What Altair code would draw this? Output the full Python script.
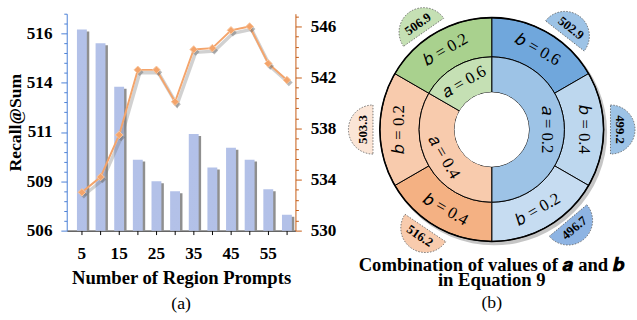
import math
import altair as alt
import pandas as pd

FONT = "Liberation Serif"

# ---------------- Panel (a) data ----------------
prompts = [5, 10, 15, 20, 25, 30, 35, 40, 45, 50, 55, 60]
recall_bars = [516.2, 515.5, 513.3, 509.6, 508.5, 508.0, 510.9, 509.2, 510.2, 509.6, 508.1, 506.8]
recall_line = [533.0, 534.2, 537.5, 542.6, 542.6, 540.1, 544.2, 544.3, 545.7, 546.0, 543.1, 541.8]
x_labels_shown = ["5", "15", "25", "35", "45", "55"]
left_major = [506, 508.5, 511, 513.5, 516]
left_major_labels = ["506", "509", "511", "514", "516"]
left_minor = [506 + 0.5 * i for i in range(23)]
right_major = [530, 534, 538, 542, 546]
right_major_labels = ["530", "534", "538", "542", "546"]
right_minor = [round(530 + 0.8 * i, 1) for i in range(22)]

# ---------------- Panel (b) data ----------------
a_values = ["0.2", "0.4", "0.6"]
a_counts = [3, 2, 1]
inner_colors = ["#9dc3e6", "#f8cbad", "#c5e0b4"]
outer_a = ["0.2", "0.2", "0.2", "0.4", "0.4", "0.6"]
outer_b = ["0.6", "0.4", "0.2", "0.4", "0.2", "0.2"]
outer_colors = ["#70a7dc", "#bdd7ee", "#c6dcf1", "#f4b183", "#f8cbad", "#a9d18e"]
recall_sums = [502.9, 499.2, 496.7, 516.2, 503.3, 506.9]
tab_angles = [38, 90, 140, 214, 270, 325]
tab_colors = ["#9dc3e6", "#9dc3e6", "#8eb4e3", "#f8cbad", "#fbe5d6", "#c5e0b4"]


def label_expr(vals, labels):
    return "".join(f"datum.value == {v} ? '{l}' : " for v, l in zip(vals, labels)) + "''"


def tick_size(majors):
    return {"condition": {"test": f"indexof({list(majors)}, datum.value) >= 0", "value": 6}, "value": 3}


def tangent_rot(theta):
    if theta <= 90:
        r = theta
    elif theta < 270:
        r = theta - 180
    else:
        r = theta - 360
    return r % 360


# ---------------- Panel (a) ----------------
df_a = pd.DataFrame({"n": prompts, "bar": recall_bars, "line": recall_line})
base = alt.Chart(df_a)

xenc = alt.X(
    "n:O",
    scale=alt.Scale(paddingInner=0.47, paddingOuter=0.37, align=0.74),
    axis=alt.Axis(
        title="Number of Region Prompts",
        labelExpr=f"indexof({x_labels_shown}, datum.label) >= 0 ? datum.label : ''",
        labelAngle=0, tickSize=4, tickColor="black", domainColor="black",
        labelFont=FONT, labelFontSize=17.5, labelFontWeight="bold", labelColor="black",
        labelPadding=10, titleFont=FONT, titleFontSize=19, titleFontWeight="bold",
        titleColor="black", titlePadding=7,
    ),
)

left_scale = alt.Scale(domain=[506, 517], nice=False, zero=False)
right_scale = alt.Scale(domain=[530, 547], nice=False, zero=False)

left_axis = alt.Axis(
    orient="left", values=left_minor, labelExpr=label_expr(left_major, left_major_labels),
    tickSize=tick_size(left_major), tickColor="#4a7fd6", domainColor="#4a7fd6",
    labelFont=FONT, labelFontSize=17.5, labelFontWeight="bold", labelColor="black",
    labelPadding=9, grid=False, title="Recall@Sum", titleFont=FONT, titleFontSize=18,
    titleFontWeight="bold", titleColor="black", titlePadding=2,
)
right_axis = alt.Axis(
    orient="right", values=right_minor, labelExpr=label_expr(right_major, right_major_labels),
    tickSize=tick_size(right_major), tickColor="#c55a11", domainColor="#c55a11",
    labelFont=FONT, labelFontSize=17.5, labelFontWeight="bold", labelColor="black",
    labelPadding=9, grid=False, title=None,
)

grad = alt.Gradient(
    gradient="linear", x1=0, x2=0, y1=0, y2=1,
    stops=[alt.GradientStop(color="#b3c1e8", offset=0), alt.GradientStop(color="#889ed8", offset=1)],
)

yl = alt.Y("bar:Q", scale=left_scale, axis=left_axis)
yr = alt.Y("line:Q", scale=right_scale, axis=right_axis)

bar_shadow = base.mark_bar(color="#8f8f8f", xOffset=2.5, yOffset=2, clip=True).encode(x=xenc, y=yl)
bars = base.mark_bar(color=grad, clip=True).encode(x=xenc, y=yl)

line_shadow = base.mark_line(color="#7a7a7a", strokeWidth=3.5, opacity=0.35, xOffset=2, yOffset=3).encode(
    x=xenc, y=yr)
line = base.mark_line(color="#f4a46b", strokeWidth=2).encode(x=xenc, y=yr)
pts_shadow = base.mark_point(shape="diamond", filled=True, size=60, color="#666666", opacity=0.45,
                             xOffset=2, yOffset=2.5).encode(x=xenc, y=yr)
pts = base.mark_point(shape="diamond", filled=True, size=60, color="#f4a46b", opacity=1,
                      stroke="#f8c9a3", strokeWidth=1).encode(x=xenc, y=yr)

panel_a = alt.layer(
    alt.layer(bar_shadow, bars),
    alt.layer(line_shadow, line, pts_shadow, pts),
).resolve_scale(y="independent").properties(
    width=233, height=221,
    title=alt.TitleParams("(a)", orient="bottom", anchor="middle", frame="group", font=FONT,
                          fontSize=18, fontWeight="normal", color="black", offset=8),
)

# ---------------- Panel (b) ----------------
W, H = 290, 236
R_HOLE, R_MID, R_OUT = 38, 74, 114
TAB_R, TAB_DIST = 25, 121

th_scale = alt.Scale(domain=[0, 360], range=[0, 2 * math.pi])
xs = alt.Scale(domain=[-W / 2, W / 2], nice=False, zero=False)
ys = alt.Scale(domain=[-H / 2, H / 2], nice=False, zero=False)

starts = [sum(a_counts[:i]) for i in range(len(a_counts))]
total = sum(a_counts)
inner = pd.DataFrame({
    "a": a_values,
    "t0": [s * 360 / total for s in starts],
    "t1": [(s + c) * 360 / total for s, c in zip(starts, a_counts)],
    "col": inner_colors,
})
inner["tm"] = (inner["t0"] + inner["t1"]) / 2
inner["rot"] = inner["tm"].apply(tangent_rot)
inner["label"] = ["\U0001D44E = " + a for a in a_values]

outer = pd.DataFrame({
    "a": outer_a, "b": outer_b, "col": outer_colors,
    "t0": [i * 360 / len(outer_b) for i in range(len(outer_b))],
    "t1": [(i + 1) * 360 / len(outer_b) for i in range(len(outer_b))],
})
outer["tm"] = (outer["t0"] + outer["t1"]) / 2
outer["rot"] = outer["tm"].apply(tangent_rot)
outer["label"] = ["\U0001D44F = " + b for b in outer_b]

tabs = pd.DataFrame({"v": [f"{v:.1f}" for v in recall_sums], "ang": tab_angles, "col": tab_colors})
tabs["t0"] = tabs["ang"] - 90
tabs["t1"] = tabs["ang"] + 90
tabs["cx"] = [TAB_DIST * math.sin(math.radians(a)) for a in tab_angles]
tabs["cy"] = [TAB_DIST * math.cos(math.radians(a)) for a in tab_angles]
tabs["tx"] = [(TAB_DIST + 10) * math.sin(math.radians(a)) for a in tab_angles]
tabs["ty"] = [(TAB_DIST + 10) * math.cos(math.radians(a)) for a in tab_angles]
tabs["rot"] = tabs["ang"].apply(tangent_rot)

full = pd.DataFrame({"t0": [0], "t1": [360], "sx": [2.5], "sy": [-3]})

shadow = alt.Chart(full).mark_arc(radius=R_OUT + 1, radius2=0, color="#7f7f7f", opacity=0.45).encode(
    theta=alt.Theta("t0:Q", scale=th_scale), theta2="t1:Q",
    x=alt.X("sx:Q", scale=xs, axis=None), y=alt.Y("sy:Q", scale=ys, axis=None))
hole = alt.Chart(full).mark_arc(radius=R_HOLE, radius2=0, color="white").encode(
    theta=alt.Theta("t0:Q", scale=th_scale), theta2="t1:Q")

outer_arcs = alt.Chart(outer).mark_arc(radius=R_OUT, radius2=R_MID, stroke="black", strokeWidth=1).encode(
    theta=alt.Theta("t0:Q", scale=th_scale), theta2="t1:Q", color=alt.Color("col:N", scale=None))
inner_arcs = alt.Chart(inner).mark_arc(radius=R_MID, radius2=R_HOLE, stroke="black", strokeWidth=1).encode(
    theta=alt.Theta("t0:Q", scale=th_scale), theta2="t1:Q", color=alt.Color("col:N", scale=None))
rim = alt.Chart(full).mark_arc(radius=R_OUT + 0.8, radius2=R_OUT - 0.8, color="black").encode(
    theta=alt.Theta("t0:Q", scale=th_scale), theta2="t1:Q")

outer_text = alt.Chart(outer).mark_text(radius=(R_OUT + R_MID) / 2, font=FONT, fontSize=17,
                                        color="black", align="center", baseline="middle").encode(
    theta=alt.Theta("tm:Q", scale=th_scale), text="label:N", angle=alt.Angle("rot:Q", scale=None))
inner_text = alt.Chart(inner).mark_text(radius=(R_MID + R_HOLE) / 2, font=FONT, fontSize=17,
                                        color="black", align="center", baseline="middle").encode(
    theta=alt.Theta("tm:Q", scale=th_scale), text="label:N", angle=alt.Angle("rot:Q", scale=None))

tab_arcs = alt.Chart(tabs).mark_arc(radius=TAB_R, radius2=0, stroke="#555555", strokeWidth=0.8,
                                    strokeDash=[1.5, 1.5]).encode(
    theta=alt.Theta("t0:Q", scale=th_scale), theta2="t1:Q",
    x=alt.X("cx:Q", scale=xs, axis=None), y=alt.Y("cy:Q", scale=ys, axis=None),
    color=alt.Color("col:N", scale=None))
tab_text = alt.Chart(tabs).mark_text(font=FONT, fontSize=13, fontWeight="bold", color="black",
                                     align="center", baseline="middle").encode(
    x=alt.X("tx:Q", scale=xs, axis=None), y=alt.Y("ty:Q", scale=ys, axis=None),
    text="v:N", angle=alt.Angle("rot:Q", scale=None))

panel_b = alt.layer(
    shadow, outer_arcs, inner_arcs, hole, rim, outer_text, inner_text, tab_arcs, tab_text
).properties(
    width=W, height=H,
    title=alt.TitleParams(
        ["Combination of values of \U0001D482 and \U0001D483", "in Equation 9"],
        subtitle="(b)", orient="bottom", anchor="middle", frame="group", font=FONT, fontSize=19,
        fontWeight="bold", color="black", lineHeight=15, offset=2,
        subtitleFont=FONT, subtitleFontSize=18, subtitleFontWeight="normal", subtitleColor="black",
        subtitlePadding=5,
    ),
)

chart = alt.hconcat(panel_a, panel_b, spacing=10).properties(
    padding={"left": 6, "top": 3, "right": 0, "bottom": 0}
).configure_view(stroke=None)

chart.save("out.html", embed_options={"renderer": "svg", "actions": False})
